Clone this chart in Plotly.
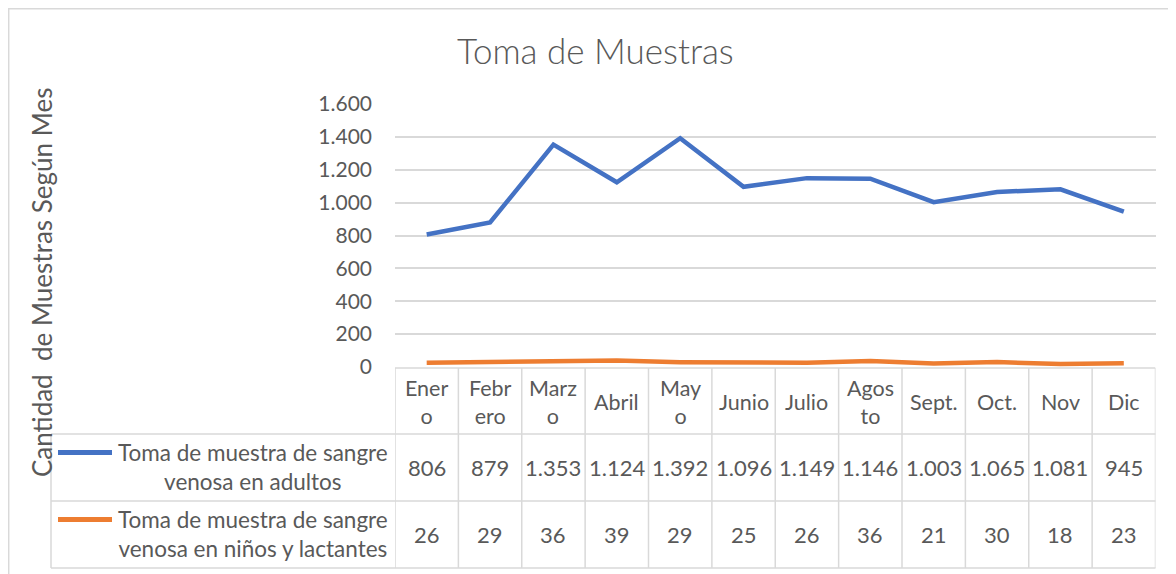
import plotly.graph_objects as go

months = ["Enero", "Febrero", "Marzo", "Abril", "Mayo", "Junio", "Julio",
          "Agosto", "Sept.", "Oct.", "Nov", "Dic"]
month_labels = ["Ener<br>o", "Febr<br>ero", "Marz<br>o", "Abril", "May<br>o", "Junio",
                "Julio", "Agos<br>to", "Sept.", "Oct.", "Nov", "Dic"]
adultos = [806, 879, 1353, 1124, 1392, 1096, 1149, 1146, 1003, 1065, 1081, 945]
ninos = [26, 29, 36, 39, 29, 25, 26, 36, 21, 30, 18, 23]
series_names = ["Toma de muestra de sangre<br>venosa en adultos",
                "Toma de muestra de sangre<br>venosa en niños y lactantes"]
series_colors = ["#4472C4", "#ED7D31"]
y_ticks = [0, 200, 400, 600, 800, 1000, 1200, 1400, 1600]

OFF = 8  # page body margin
W, H = 1176 - OFF, 574 - OFF
FONT = "Lato"
TXT = "#595959"
GRID = "#D9D9D9"


def px(x):
    return (x - OFF) / W


def py(y):
    return 1 - (y - OFF) / H


def fmt(v):
    return f"{v:,}".replace(",", ".")


x_idx = list(range(len(months)))

fig = go.Figure()
for vals, name, col in zip([adultos, ninos], series_names, series_colors):
    fig.add_trace(go.Scatter(x=x_idx, y=vals, mode="lines", name=name.replace("<br>", " "),
                             line=dict(color=col, width=4.5), showlegend=False,
                             hoverinfo="skip"))

shapes = []
annotations = []

# chart border (top & left)
shapes.append(dict(type="rect", xref="paper", yref="paper", x0=px(8.7), x1=px(1190),
                   y0=py(600), y1=py(8.7), line=dict(color=GRID, width=1.5)))

# table geometry
top_y, r1_y, r2_y, bot_y = 368, 434, 501, 568
left_x = 51
x_end = len(months) - 0.5
line_style = dict(color=GRID, width=1.5)
shapes.append(dict(type="line", xref="x", yref="paper", x0=-0.5, x1=x_end,
                   y0=py(top_y), y1=py(top_y), line=line_style))
for yy in [r1_y, r2_y, bot_y]:
    shapes.append(dict(type="line", xref="paper", yref="paper", x0=px(left_x),
                       x1=px(1155.5), y0=py(yy), y1=py(yy), line=line_style))
shapes.append(dict(type="line", xref="paper", yref="paper", x0=px(left_x), x1=px(left_x),
                   y0=py(r1_y), y1=py(bot_y), line=line_style))
for k in range(len(months) + 1):
    shapes.append(dict(type="line", xref="x", yref="paper", x0=k - 0.5, x1=k - 0.5,
                       y0=py(top_y), y1=py(bot_y), line=line_style))

# header labels
for i, lab in enumerate(month_labels):
    annotations.append(dict(x=i, y=py((top_y + r1_y) / 2 + 0.5), xref="x", yref="paper",
                            text=lab, showarrow=False, align="center",
                            xanchor="center", yanchor="middle",
                            font=dict(family=FONT, size=21.5, color=TXT)))
# values
for row_y, vals in [((r1_y + r2_y) / 2, adultos), ((r2_y + bot_y) / 2, ninos)]:
    for i, v in enumerate(vals):
        annotations.append(dict(x=i, y=py(row_y), xref="x", yref="paper",
                                text=fmt(v), showarrow=False,
                                xanchor="center", yanchor="middle",
                                font=dict(family=FONT, size=22, color=TXT)))

# legend keys + names
for row_top, name, col in [(r1_y, series_names[0], series_colors[0]),
                           (r2_y, series_names[1], series_colors[1])]:
    ly = row_top + 18.5
    shapes.append(dict(type="line", xref="paper", yref="paper", x0=px(58), x1=px(112),
                       y0=py(ly), y1=py(ly),
                       line=dict(color=col, width=5)))
    annotations.append(dict(x=px(253), y=py(row_top + 33), xref="paper", yref="paper",
                            text=name, showarrow=False, align="center",
                            xanchor="center", yanchor="middle",
                            font=dict(family=FONT, size=22.5, color=TXT)))

# title
annotations.append(dict(x=px(595), y=py(50), xref="paper", yref="paper",
                        text="Toma de Muestras", showarrow=False,
                        xanchor="center", yanchor="middle",
                        font=dict(family="Lato Light, Lato", size=35, color=TXT)))
# y axis title
annotations.append(dict(x=px(42), y=py(283), xref="paper", yref="paper",
                        text="Cantidad  de Muestras Según Mes", textangle=-90,
                        showarrow=False, xanchor="center", yanchor="middle",
                        font=dict(family=FONT, size=26, color=TXT)))

fig.update_layout(
    width=W, height=H,
    margin=dict(l=0, r=0, t=0, b=0, pad=0),
    paper_bgcolor="white", plot_bgcolor="white",
    separators=",.",
    shapes=shapes, annotations=annotations,
    xaxis=dict(domain=[px(395), px(1155.5)], range=[-0.5, len(months) - 0.5],
               showticklabels=False, showgrid=False, zeroline=False, showline=False,
               automargin=False, fixedrange=True),
    yaxis=dict(domain=[py(367), py(104)], range=[0, 1600], tickvals=y_ticks,
               tickformat=",", showgrid=True, gridcolor=GRID, gridwidth=1.5,
               zeroline=False, showline=False, ticks="", ticklabelstandoff=22,
               automargin=False,
               tickfont=dict(family=FONT, size=21, color=TXT), fixedrange=True),
)

fig.write_html("out.html")
